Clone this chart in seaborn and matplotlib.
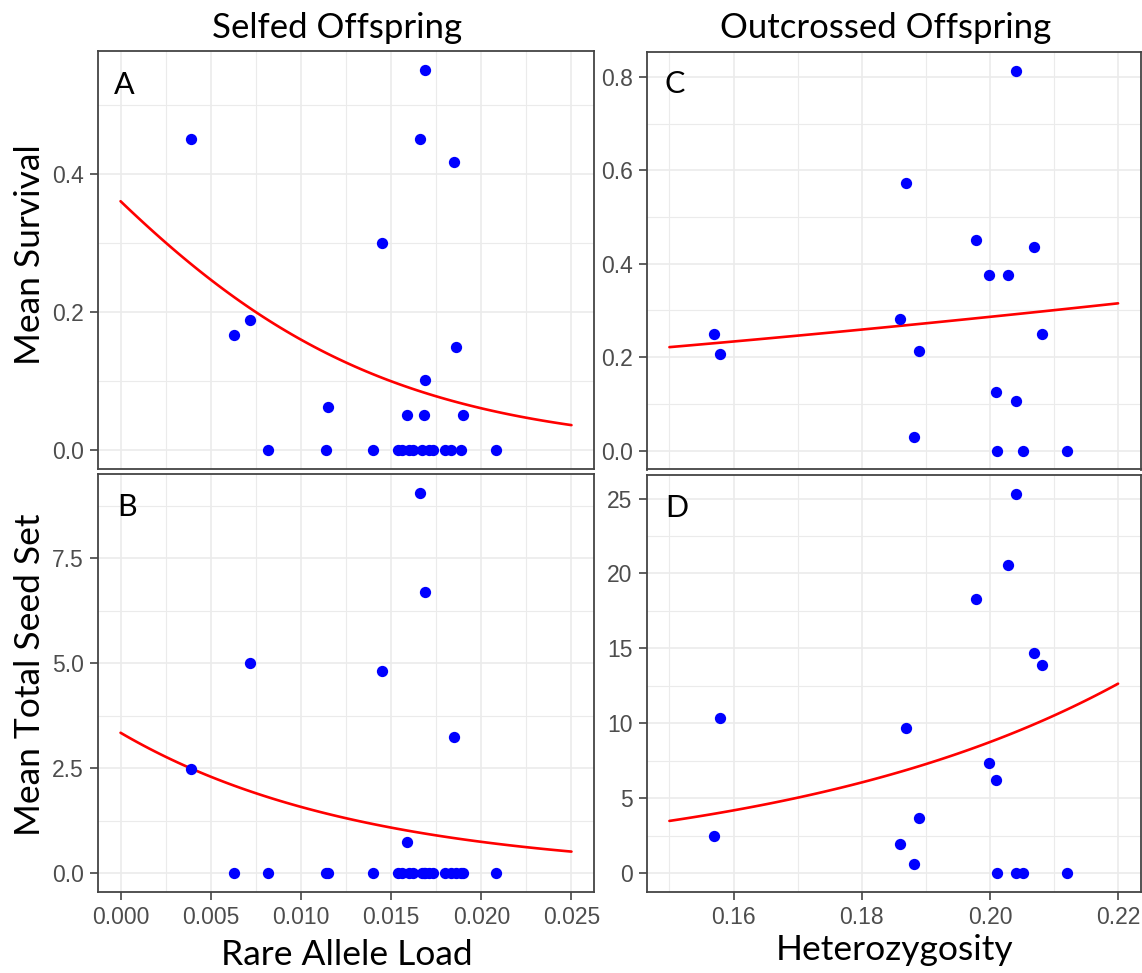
import numpy as np
import pandas as pd
import matplotlib
matplotlib.use("Agg")
import matplotlib.pyplot as plt
from matplotlib.ticker import MultipleLocator
import seaborn as sns

# ---- selfed offspring: rare allele load, mean survival, mean total seed set ----
selfed_load = [0.0039, 0.0063, 0.0072, 0.0082, 0.0114, 0.0115, 0.0140, 0.0145,
               0.0154, 0.0156, 0.0159, 0.0160, 0.0162, 0.0166, 0.0167, 0.0168,
               0.0169, 0.0169, 0.0171, 0.0173, 0.0180, 0.0183, 0.0185, 0.0186,
               0.0189, 0.0190, 0.0208]
selfed_survival = [0.450, 0.167, 0.188, 0.0, 0.0, 0.062, 0.0, 0.300,
                   0.0, 0.0, 0.051, 0.0, 0.0, 0.450, 0.0, 0.051,
                   0.550, 0.101, 0.0, 0.0, 0.0, 0.0, 0.417, 0.149,
                   0.0, 0.051, 0.0]
selfed_seed = [2.48, 0.0, 5.00, 0.0, 0.0, 0.0, 0.0, 4.82,
               0.0, 0.0, 0.75, 0.0, 0.0, 9.04, 0.0, 0.0,
               6.70, 0.0, 0.0, 0.0, 0.0, 0.0, 3.24, 0.0,
               0.0, 0.0, 0.0]

# ---- outcrossed offspring: heterozygosity, mean survival, mean total seed set ----
outcrossed_het = [0.1570, 0.1579, 0.1859, 0.1869, 0.1881, 0.1889, 0.1979, 0.1999,
                  0.2010, 0.2011, 0.2028, 0.2040, 0.2040, 0.2051, 0.2069, 0.2081,
                  0.2120]
outcrossed_survival = [0.250, 0.206, 0.281, 0.573, 0.029, 0.213, 0.450, 0.375,
                       0.125, 0.0, 0.375, 0.8125, 0.106, 0.0, 0.436, 0.250,
                       0.0]
outcrossed_seed = [2.50, 10.37, 1.92, 9.66, 0.58, 3.70, 18.27, 7.34,
                   6.22, 0.0, 20.56, 25.31, 0.0, 0.0, 14.72, 13.89,
                   0.0]

# ---- fitted GLM coefficients (intercept, slope) ----
surv_load_logit = (-0.575, -108.5)     # binomial, logit link
seed_load_log = (1.206, -75.2)         # poisson, log link
surv_het_logit = (-2.290, 6.88)        # binomial, logit link
seed_het_log = (-1.5175, 18.43)        # poisson, log link
load_range = (0.0, 0.025)
het_range = (0.15, 0.22)

x_ticks_load = [0.000, 0.005, 0.010, 0.015, 0.020, 0.025]
x_ticks_het = [0.16, 0.18, 0.20, 0.22]

sns.set_theme(style="white")
plt.rcParams["font.family"] = ["Liberation Sans", "DejaVu Sans"]

W, H = 1142, 973
fig = plt.figure(figsize=(W / 100, H / 100), dpi=100)
fig.patch.set_facecolor("white")

def rect(l, t, r, b):
    return [l / W, 1 - b / H, (r - l) / W, (b - t) / H]

GRID = "#EBEBEB"
DARK = "#444444"
TICKTXT = "#4D4D4D"


def logistic(v):
    return 1.0 / (1.0 + np.exp(-v))


def style(ax, xlim, ylim, xmaj, xmin, ymaj, ymin, show_x):
    ax.set_xlim(*xlim)
    ax.set_ylim(*ylim)
    ax.xaxis.set_major_locator(MultipleLocator(xmaj))
    ax.xaxis.set_minor_locator(MultipleLocator(xmin))
    ax.yaxis.set_major_locator(MultipleLocator(ymaj))
    ax.yaxis.set_minor_locator(MultipleLocator(ymin))
    ax.set_facecolor("white")
    ax.grid(True, which="major", color=GRID, lw=1.2, zorder=0)
    ax.grid(True, which="minor", color=GRID, lw=0.8, zorder=0)
    ax.set_axisbelow(True)
    for s in ax.spines.values():
        s.set_visible(True)
        s.set_color(DARK)
        s.set_linewidth(1.3)
    ax.tick_params(axis="y", which="major", left=True, length=5.8, width=1.2,
                   color=DARK, pad=4.5, labelsize=16.5, labelcolor=TICKTXT)
    ax.tick_params(axis="both", which="minor", length=0)
    if show_x:
        ax.tick_params(axis="x", which="major", bottom=True, length=5.8, width=1.2,
                       color=DARK, pad=4.5, labelsize=16.5, labelcolor=TICKTXT)
    else:
        ax.tick_params(axis="x", which="major", bottom=False, labelbottom=False)
    ax.set_xlabel("")
    ax.set_ylabel("")


def panel(ax, x, y, coef, xr, link):
    df = pd.DataFrame({"x": x, "y": y})
    grid = np.linspace(xr[0], xr[1], 80)
    eta = coef[0] + coef[1] * grid
    pred = logistic(eta) if link == "logit" else np.exp(eta)
    sns.lineplot(x=grid, y=pred, ax=ax, color="#FF0000", lw=1.9,
                 estimator=None, sort=False, zorder=2)
    sns.scatterplot(data=df, x="x", y="y", ax=ax, color="#0000FF", s=66,
                    linewidth=0, zorder=3)


axA = fig.add_axes(rect(98, 51, 594, 469))
axB = fig.add_axes(rect(98, 474, 594, 892))
axC = fig.add_axes(rect(647, 52, 1140.5, 469.5))
axD = fig.add_axes(rect(647, 475, 1140.5, 892))

panel(axA, selfed_load, selfed_survival, surv_load_logit, load_range, "logit")
panel(axB, selfed_load, selfed_seed, seed_load_log, load_range, "log")
panel(axC, outcrossed_het, outcrossed_survival, surv_het_logit, het_range, "logit")
panel(axD, outcrossed_het, outcrossed_seed, seed_het_log, het_range, "log")

load_lim = (-0.00125, 0.02625)
het_lim = (0.1465, 0.2235)
style(axA, load_lim, (-0.0275, 0.5775), 0.005, 0.0025, 0.2, 0.1, False)
style(axB, load_lim, (-0.4525, 9.5025), 0.005, 0.0025, 2.5, 1.25, True)
style(axC, het_lim, (-0.040625, 0.853125), 0.02, 0.01, 0.2, 0.1, False)
style(axD, het_lim, (-1.2655, 26.5755), 0.02, 0.01, 5, 2.5, True)

axA.set_yticks([0.0, 0.2, 0.4])
axA.set_yticklabels(["0.0", "0.2", "0.4"])
axB.set_yticks([0.0, 2.5, 5.0, 7.5])
axB.set_yticklabels(["0.0", "2.5", "5.0", "7.5"])
axB.set_xticks(x_ticks_load)
axB.set_xticklabels([f"{v:.3f}" for v in x_ticks_load])
axC.set_yticks([0.0, 0.2, 0.4, 0.6, 0.8])
axC.set_yticklabels(["0.0", "0.2", "0.4", "0.6", "0.8"])
axD.set_yticks([0, 5, 10, 15, 20, 25])
axD.set_yticklabels(["0", "5", "10", "15", "20", "25"])
axD.set_xticks(x_ticks_het)
axD.set_xticklabels([f"{v:.2f}" for v in x_ticks_het])

# ---- annotation text ----
LABEL_FONT = ["Lato", "DejaVu Sans"]

def ftext(px, py, s, size, **kw):
    fig.text(px / W, 1 - py / H, s, fontsize=size, family=LABEL_FONT,
             color="black", **kw)

ftext(337, 38, "Selfed Offspring", 25, ha="center", va="baseline")
ftext(886, 38, "Outcrossed Offspring", 25, ha="center", va="baseline")
ftext(114, 94, "A", 22, ha="left", va="baseline")
ftext(117, 516, "B", 22, ha="left", va="baseline")
ftext(665, 93, "C", 22, ha="left", va="baseline")
ftext(665, 517, "D", 22, ha="left", va="baseline")
ftext(30, 255, "Mean Survival", 25.5, ha="center", va="center", rotation=90)
ftext(30, 675, "Mean Total Seed Set", 25.5, ha="center", va="center", rotation=90)
ftext(347, 965, "Rare Allele Load", 25.5, ha="center", va="baseline")
ftext(895, 960, "Heterozygosity", 25.5, ha="center", va="baseline")

fig.savefig("out.png", dpi=100, facecolor="white")
